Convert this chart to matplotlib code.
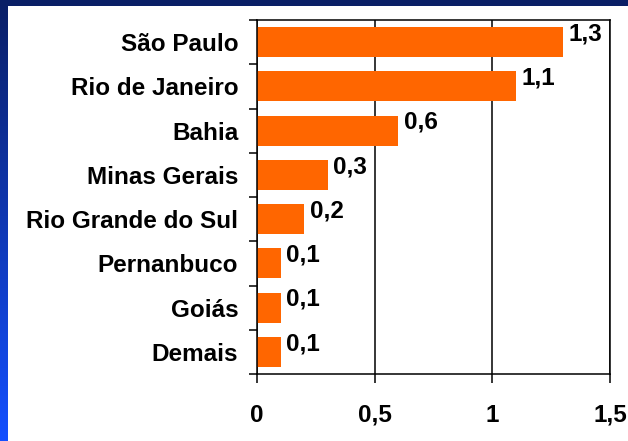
import numpy as np
import matplotlib.pyplot as plt
from matplotlib.patches import Rectangle

# Data
states = ['São Paulo', 'Rio de Janeiro', 'Bahia', 'Minas Gerais',
          'Rio Grande do Sul', 'Pernanbuco', 'Goiás', 'Demais']
values = [1.3, 1.1, 0.6, 0.3, 0.2, 0.1, 0.1, 0.1]
value_labels = ['1,3', '1,1', '0,6', '0,3', '0,2', '0,1', '0,1', '0,1']
xticks = [0, 0.5, 1, 1.5]
xtick_labels = ['0', '0,5', '1', '1,5']

plt.rcParams['font.family'] = ['Liberation Sans', 'DejaVu Sans']
plt.rcParams['font.weight'] = 'bold'

W, H = 628, 441
fig = plt.figure(figsize=(W / 100, H / 100), dpi=100)
fig.patch.set_facecolor('white')

# Blue slide frame (left strip with gradient, top strip)
bg = fig.add_axes([0, 0, 1, 1], zorder=-10)
bg.axis('off')
grad = np.linspace(0, 1, 256).reshape(-1, 1)
top_c = np.array([0x0a, 0x1f, 0x66]) / 255
bot_c = np.array([0x14, 0x50, 0xff]) / 255
img = top_c + grad[:, :, None] * (bot_c - top_c)
bg.imshow(img, extent=[0, 8, H, 0], aspect='auto')
bg.add_patch(Rectangle((0, 0), W, 6, color='#0a1f66', lw=0))
bg.set_xlim(0, W)
bg.set_ylim(H, 0)

ax = fig.add_axes([257 / W, 1 - 374 / H, (610 - 257) / W, (374 - 20) / H])
y = np.arange(len(states))
ax.barh(y, values, height=0.68, color='#ff6600', zorder=2)

for yi, v, lab in zip(y, values, value_labels):
    ax.annotate(lab, (v, yi), xytext=(4, 6), textcoords='offset points',
                ha='left', va='center', fontsize=17.5, fontweight='bold')

ax.set_xlim(0, 1.5)
ax.set_ylim(len(states) - 0.5, -0.5)
ax.set_xticks(xticks)
ax.set_xticklabels(xtick_labels)
ax.set_yticks(y)
ax.set_yticklabels(states)
ax.set_yticks(np.arange(-0.5, len(states)), minor=True)

ax.tick_params(axis='y', which='major', length=0, pad=13.5, labelsize=17.5)
ax.tick_params(axis='y', which='minor', length=6, width=1.1, direction='out')
ax.tick_params(axis='x', which='major', length=6.5, width=1.1, direction='out',
               pad=15, labelsize=17.5)

ax.grid(axis='x', color='black', linewidth=1.1, zorder=1)
for s in ax.spines.values():
    s.set_linewidth(1.1)

fig.savefig('out.png', dpi=100)
